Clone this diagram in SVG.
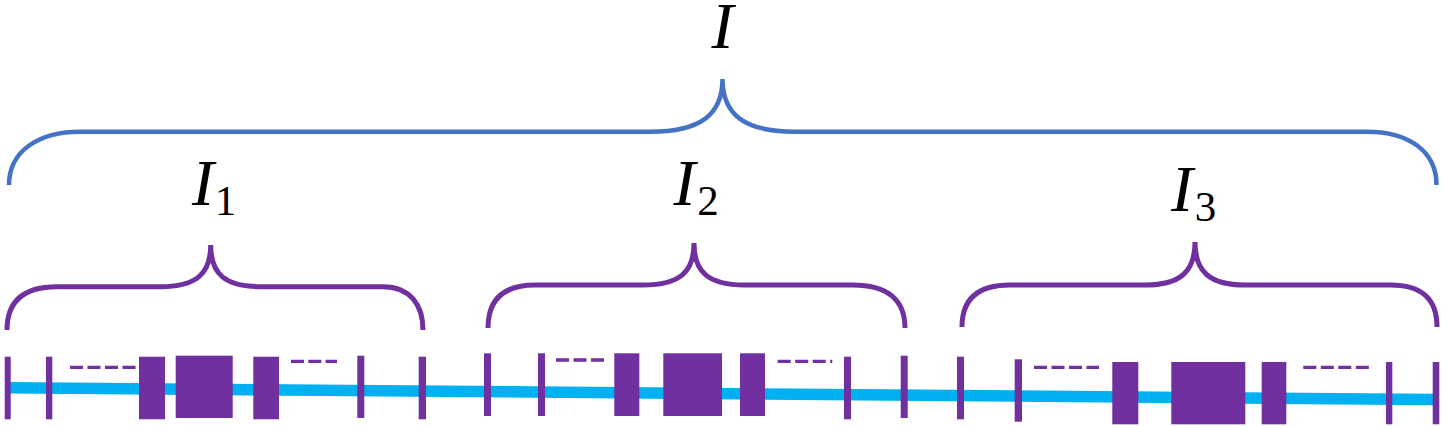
<svg xmlns="http://www.w3.org/2000/svg" width="1444" height="427" viewBox="0 0 1444 427">
<style>
.bb{fill:none;stroke:#4472C4;stroke-width:4.5}
.pb{fill:none;stroke:#7030A0;stroke-width:5}
.m{fill:#7030A0}
.d{fill:none;stroke:#7030A0;stroke-width:3.3;stroke-dasharray:13 4.5}
.v{font-family:"Liberation Serif",serif;font-style:italic;font-size:66px;fill:#000}
.s{font-family:"Liberation Serif",serif;font-style:normal;font-size:43px;fill:#000}
.ax{fill:none;stroke:#00B0F0;stroke-width:11.5}
</style>
<rect width="1444" height="427" fill="#fff"/>
<g id="label-I"><text class="v" x="722.5" y="48" text-anchor="middle">I</text></g>
<g id="brace-I"><path class="bb" d="M9,185 C9,150 40,131.7 80,131.7 L650,131.7 C700,131.7 722.5,115 722.5,79 C722.5,115 745,131.7 795,131.7 L1367,131.7 C1407,131.7 1436.5,150 1436.5,185"/></g>
<g id="label-I1"><text><tspan class="v" x="203" y="205" text-anchor="middle">I</tspan><tspan class="s" x="225.5" y="215" text-anchor="middle">1</tspan></text></g>
<g id="label-I2"><text><tspan class="v" x="684.5" y="205" text-anchor="middle">I</tspan><tspan class="s" x="708" y="215" text-anchor="middle">2</tspan></text></g>
<g id="label-I3"><text><tspan class="v" x="1182" y="211" text-anchor="middle">I</tspan><tspan class="s" x="1205.5" y="221" text-anchor="middle">3</tspan></text></g>
<g id="brace-I1"><path class="pb" d="M7,330 C7,300 25,286.7 57,286.7 L160,286.7 C195,286.7 210.7,275 210.7,245 C210.7,275 226,286.7 261,286.7 L383,286.7 C410,286.7 423,305 423,330"/></g>
<g id="brace-I2"><path class="pb" d="M488,328 C488,298 505,285 535,285 L643,285 C680,285 694,272 694,243 C694,272 708,285 745,285 L853,285 C885,285 905,298 905,328"/></g>
<g id="brace-I3"><path class="pb" d="M962,327 C962,297 980,285 1010,285 L1145,285 C1180,285 1195,272 1195,242 C1195,272 1210,285 1245,285 L1390,285 C1420,285 1437,297 1437,327"/></g>
<g id="connectors"><line class="ax" x1="8" y1="387.7" x2="1436" y2="399.5"/></g>
<g id="segment-1">
<rect class="m" x="4.7" y="356.7" width="6" height="62.6"/>
<rect class="m" x="46" y="356.7" width="6.3" height="62.6"/>
<line class="d" x1="70" y1="367.3" x2="136" y2="367.3"/>
<rect class="m" x="139" y="356.7" width="26" height="62.6"/>
<rect class="m" x="175.7" y="355.7" width="57" height="62.3"/>
<rect class="m" x="253.3" y="356.7" width="25.7" height="62.6"/>
<line class="d" x1="291" y1="361.3" x2="337" y2="361.3" style="stroke-dasharray:13 4.3"/>
<rect class="m" x="357.3" y="355.7" width="7" height="62.3"/>
<rect class="m" x="418.7" y="356.7" width="7.3" height="62.6"/>
</g>
<g id="segment-2">
<rect class="m" x="484" y="353.3" width="7" height="62.7"/>
<rect class="m" x="538" y="353.3" width="7" height="62.7"/>
<line class="d" x1="556" y1="360" x2="604" y2="360"/>
<rect class="m" x="614.3" y="353.3" width="25" height="62.7"/>
<rect class="m" x="663.3" y="353.3" width="58.7" height="62.7"/>
<rect class="m" x="740" y="353.3" width="25" height="62.7"/>
<line class="d" x1="777.7" y1="361.3" x2="832.3" y2="361.3"/>
<rect class="m" x="844" y="356.7" width="7" height="62.6"/>
<rect class="m" x="900.7" y="355.7" width="7" height="62.3"/>
</g>
<g id="segment-3">
<rect class="m" x="957" y="356.7" width="7" height="62.6"/>
<rect class="m" x="1014.7" y="359.3" width="7.3" height="62.4"/>
<line class="d" x1="1034" y1="367.3" x2="1099" y2="367.3"/>
<rect class="m" x="1112.3" y="362" width="26" height="62.3"/>
<rect class="m" x="1171.3" y="362" width="74" height="62.3"/>
<rect class="m" x="1261.7" y="362" width="24.6" height="62.3"/>
<line class="d" x1="1303.3" y1="367.3" x2="1369" y2="367.3"/>
<rect class="m" x="1386" y="362" width="6.3" height="62.3"/>
<rect class="m" x="1432.7" y="362" width="6.6" height="62.3"/>
</g>
</svg>
